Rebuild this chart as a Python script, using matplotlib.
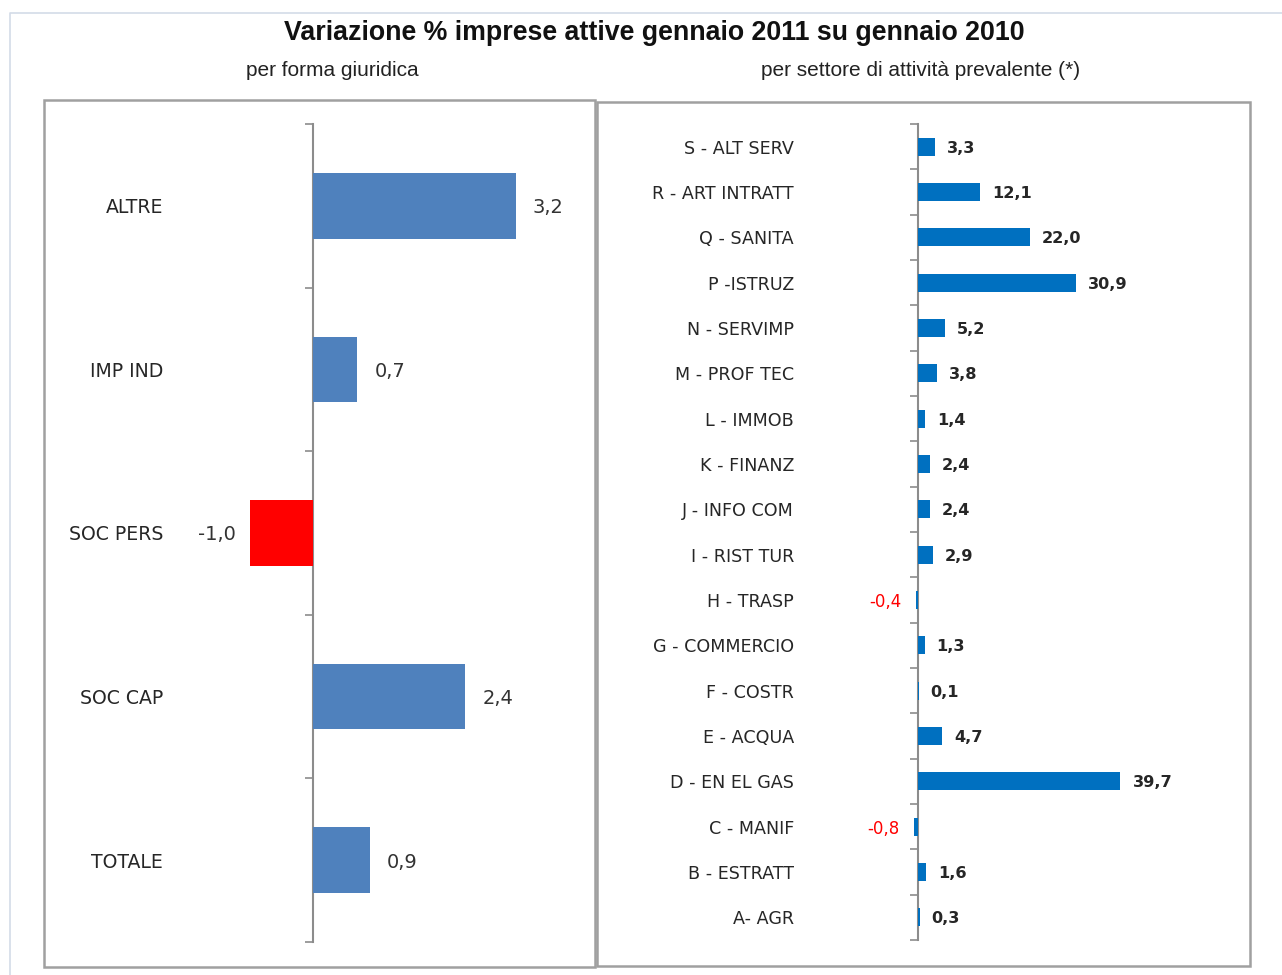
import matplotlib
matplotlib.use("Agg")
import matplotlib.pyplot as plt
from matplotlib.patches import Rectangle
from matplotlib.lines import Line2D
import numpy as np

# ---- data ----
left_categories = ["ALTRE", "IMP IND", "SOC PERS", "SOC CAP", "TOTALE"]
left_values = [3.2, 0.7, -1.0, 2.4, 0.9]

right_categories = ["S - ALT SERV", "R - ART INTRATT", "Q - SANITA", "P -ISTRUZ",
                    "N - SERVIMP", "M - PROF TEC", "L - IMMOB", "K - FINANZ",
                    "J - INFO COM", "I - RIST TUR", "H - TRASP", "G - COMMERCIO",
                    "F - COSTR", "E - ACQUA", "D - EN EL GAS", "C - MANIF",
                    "B - ESTRATT", "A- AGR"]
right_values = [3.3, 12.1, 22.0, 30.9, 5.2, 3.8, 1.4, 2.4, 2.4, 2.9, -0.4, 1.3,
                0.1, 4.7, 39.7, -0.8, 1.6, 0.3]

title = "Variazione % imprese attive gennaio 2011 su gennaio 2010"
sub_left = "per forma giuridica"
sub_right = "per settore di attività prevalente (*)"

W, H = 1282, 975
fig = plt.figure(figsize=(W / 100, H / 100), dpi=100)

def fx(p):
    return p / W

def fy(p):
    return 1 - p / H

def fmt(v):
    return f"{v:.1f}".replace(".", ",")

# outer light border
fig.add_artist(Line2D([fx(10), fx(10), fx(1282)], [fy(975), fy(13), fy(13)],
                      color="#D3DBE8", lw=1.2, transform=fig.transFigure))
# panel boxes
for (x0, y0, x1, y1) in [(44, 100, 595, 967), (597, 102, 1250, 966)]:
    fig.add_artist(Rectangle((fx(x0), fy(y1)), fx(x1) - fx(x0), fy(y0) - fy(y1),
                             transform=fig.transFigure, fill=False,
                             edgecolor="#A0A0A0", lw=1.8))

fig.text(fx(654), fy(33), title, ha="center", va="center",
         fontsize=19.3, fontweight="bold", family="Liberation Sans", color="#111111")
fig.text(fx(332), fy(70), sub_left, ha="center", va="center",
         fontsize=15, family="Liberation Sans", color="#222222")
fig.text(fx(921), fy(70), sub_right, ha="center", va="center",
         fontsize=15, family="Liberation Sans", color="#222222")

label_font = "DejaVu Sans"

def make_panel(cats, vals, axis_px, ppu, ax_left_px, ax_right_px, top_px, bot_px,
               label_right_px, colors, catsize):
    xmin = (ax_left_px - axis_px) / ppu
    xmax = (ax_right_px - axis_px) / ppu
    ax = fig.add_axes([fx(ax_left_px), fy(bot_px), fx(ax_right_px) - fx(ax_left_px),
                       fy(top_px) - fy(bot_px)])
    n = len(cats)
    pos = np.arange(n)
    ax.barh(pos, vals, height=0.4, color=colors, edgecolor="none", zorder=2)
    ax.set_xlim(xmin, xmax)
    ax.set_ylim(n - 0.5, -0.5)
    for s in ["top", "right", "bottom"]:
        ax.spines[s].set_visible(False)
    ax.spines["left"].set_position(("data", 0))
    ax.spines["left"].set_color("#8C8C8C")
    ax.spines["left"].set_linewidth(1.5)
    ax.spines["left"].set_zorder(1)
    ax.patch.set_alpha(0)
    ax.set_xticks([])
    ax.set_yticks(pos)
    ax.set_yticks(np.arange(n + 1) - 0.5, minor=True)
    ax.tick_params(axis="y", which="major", length=0,
                   pad=(axis_px - label_right_px) * 0.72)
    ax.tick_params(axis="y", which="minor", length=6, width=1.2, color="#8C8C8C",
                   direction="out")
    ax.set_yticklabels(cats, fontsize=catsize, family=label_font, color="#262626")
    return ax, pos

# left panel
lcolors = ["#FF0000" if v < 0 else "#4F81BD" for v in left_values]
axL, posL = make_panel(left_categories, left_values, 313, 63.4, 170, 585, 124, 942,
                       163, lcolors, 13.6)
for p, v in zip(posL, left_values):
    off = 17 if v >= 0 else -14
    axL.annotate(fmt(v), (v, p), xytext=(off * 0.72, 0), textcoords="offset points",
                 ha="left" if v >= 0 else "right", va="center_baseline", fontsize=14,
                 family=label_font, color="#333333")

# right panel
rcolors = ["#0070C0"] * len(right_values)
axR, posR = make_panel(right_categories, right_values, 918, 5.1, 800, 1235, 124, 940,
                       794, rcolors, 12.6)
for p, v in zip(posR, right_values):
    if v >= 0:
        axR.annotate(fmt(v), (v, p), xytext=(12 * 0.72, 0), textcoords="offset points",
                     ha="left", va="center_baseline", fontsize=11.6, fontweight="bold",
                     family=label_font, color="#262626")
    else:
        axR.annotate(fmt(v), (v, p), xytext=(-14 * 0.72, 0), textcoords="offset points",
                     ha="right", va="center_baseline", fontsize=12,
                     family=label_font, color="#FF0000")

fig.savefig("out.png", dpi=100)
